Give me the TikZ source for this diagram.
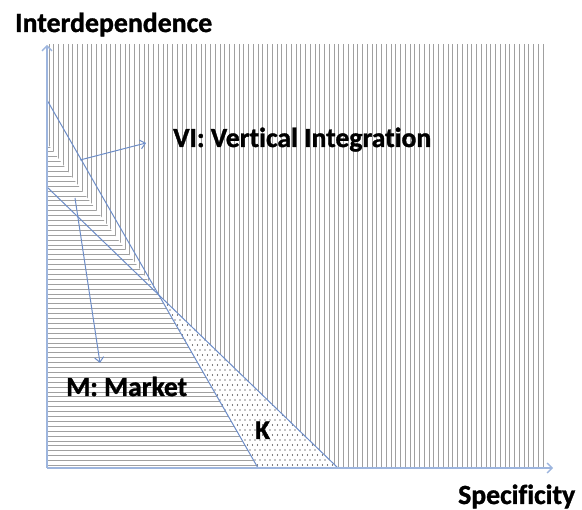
\documentclass[tikz,border=0pt]{standalone}
\usepackage{fontspec}
\setmainfont{Carlito}[Ligatures=NoCommon,BoldFeatures={FakeBold=1.2}]
\usetikzlibrary{arrows.meta,calc,intersections}
\definecolor{hatchgray}{HTML}{A0A0A0}
\definecolor{axisblue}{HTML}{9DB5DE}
\definecolor{lineblue}{HTML}{6D8DC8}
\newcommand{\fitw}[2]{\resizebox{#1}{!}{#2}}
\begin{document}
\begin{tikzpicture}[x=1pt,y=-1pt,
  hatch/.style={draw=hatchgray,line width=0.9pt},
  axisline/.style={draw=axisblue,line width=1.4pt,-{Straight Barb[length=5pt,width=10pt]}},
  bound/.style={draw=lineblue,line width=1pt},
  pointer/.style={draw=lineblue,line width=1pt,-{Straight Barb[length=5pt,width=9pt]}},
  lbl/.style={font=\bfseries\fontsize{27}{30}\selectfont, inner sep=0pt, anchor=base west}]
\useasboundingbox (0,0) rectangle (582,510);
\coordinate (O) at (47,468);
\coordinate (Ytop) at (47,45);
\coordinate (Xend) at (553,468);
\coordinate (A1) at (47,100);
\coordinate (A2) at (258,468);
\coordinate (B1) at (47,187);
\coordinate (B2) at (338,468);
\coordinate (Mtop) at (47,143);
\coordinate (X) at (intersection of A1--A2 and B1--B2);
% VI region: vertical hatching
\foreach \i in {0,...,104} {\draw[hatch] ({49+4.75*\i},44) -- ++(0,424);}
\fill[white] (Mtop) -- (X) -- (B2) -- (O) -- cycle;
% M region: horizontal hatching
\begin{scope}
  \clip (Mtop) -- (X) -- (A2) -- (O) -- cycle;
  \foreach \i in {0,...,65} {\draw[hatch] (47,{147+4.9*\i}) -- ++(300,0);}
\end{scope}
% K region: dots
\begin{scope}
  \clip (X) -- (B2) -- (A2) -- cycle;
  \foreach \r in {0,...,36} {
    \foreach \c in {0,...,38} {
      \fill ({150+5*\c+2.5*mod(\r,2)},{290+5*\r}) circle (0.55pt);
    }
  }
\end{scope}
% boundaries
\draw[bound] (A1) -- (A2);
\draw[bound] (B1) -- (B2);
% axes
\draw[axisline] (O) -- (Ytop);
\draw[axisline] (O) -- (Xend);
% labels
\node[lbl] (ylab) at (15,32) {\fitw{197pt}{Interdependence}};
\node[lbl] (vilab) at (173,147) {\fitw{258pt}{VI: Vertical Integration}};
\node[lbl] (mlab) at (66,396) {\fitw{121pt}{M: Market}};
\node[lbl] (klab) at (255,439) {K};
\node[lbl] (xlab) at (458,504) {\fitw{117pt}{Specificity}};
% pointers
\coordinate (VIs) at (80,160);
\coordinate (VIe) at (146,143);
\coordinate (Ms) at (75,198);
\coordinate (Me) at (100,363);
\draw[pointer] (VIs) -- (VIe);
\draw[pointer] (Ms) -- (Me);
\end{tikzpicture}
\end{document}
